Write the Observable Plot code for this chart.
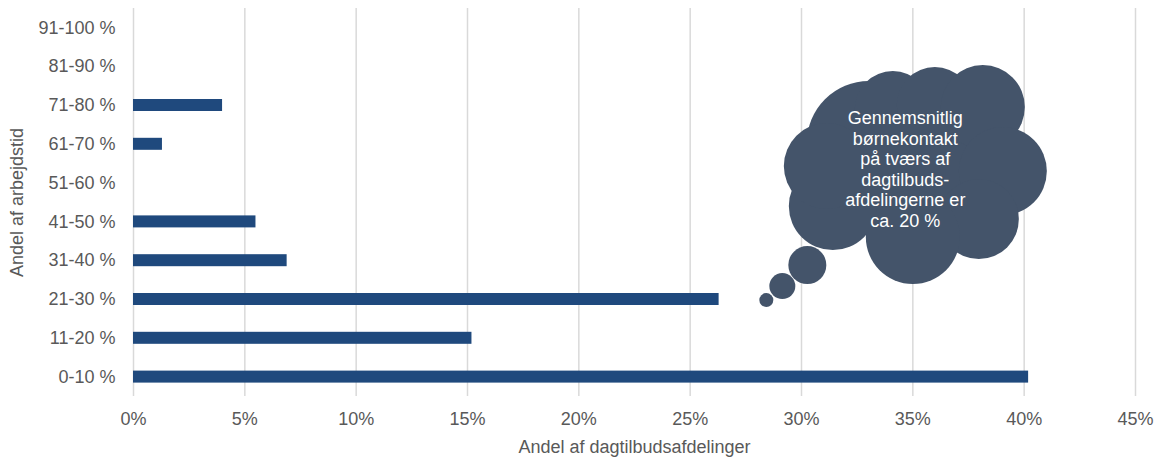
<!DOCTYPE html>
<html><head><meta charset="utf-8">
<script src="https://cdn.jsdelivr.net/npm/d3@7"></script>
<script src="https://cdn.jsdelivr.net/npm/@observablehq/plot@0.6"></script>
<style>body{margin:0;background:#fff;} svg{display:block}</style>
</head><body><div id="chart"></div>
<script>
// Data
const categories = ["0-10 %","11-20 %","21-30 %","31-40 %","41-50 %","51-60 %","61-70 %","71-80 %","81-90 %","91-100 %"];
const shares = [40.2, 15.2, 26.3, 6.9, 5.5, 0, 1.3, 4.0, 0, 0]; // percent of day-care units
const xTicks = [0, 5, 10, 15, 20, 25, 30, 35, 40, 45];
const xTitle = "Andel af dagtilbudsafdelinger";
const yTitle = "Andel af arbejdstid";
const cloudText = ["Gennemsnitlig", "børnekontakt", "på tværs af", "dagtilbuds-", "afdelingerne er", "ca. 20 %"];

const rows = categories.map((c, i) => ({category: c, share: shares[i]}));

// Thought-cloud annotation: anchored at a data point, lobes offset in px
const cloudAnchor = {x: 35, y: "51-60 %"};
const lobes = [
  {dx: 2, dy: -7, r: 76},
  {dx: -44, dy: -40, r: 62},
  {dx: -20, dy: -74, r: 38},
  {dx: 22, dy: -78, r: 38},
  {dx: 70, dy: -76, r: 42},
  {dx: 90, dy: -12, r: 44},
  {dx: 66, dy: 36, r: 40},
  {dx: 0, dy: 54, r: 47},
  {dx: -80, dy: 23, r: 44},
  {dx: -86, dy: -17, r: 43},
  {dx: -105.5, dy: 82, r: 19},
  {dx: -130.5, dy: 103, r: 13},
  {dx: -146.5, dy: 117, r: 7}
];
const cloudFill = "#44546a";
const textColor = "#595959";

const chart = Plot.plot({
  width: 1160,
  height: 459,
  marginLeft: 133,
  marginRight: 25,
  marginTop: 8,
  marginBottom: 63,
  style: {fontFamily: "'Liberation Sans', Arial, sans-serif", fontSize: "18px", color: textColor, background: "#fff"},
  x: {domain: [0, 45], ticks: xTicks, tickFormat: d => d + "%", label: null},
  y: {domain: categories.slice().reverse(), padding: 0, round: false, label: null},
  marks: [
    Plot.gridX(xTicks, {stroke: "#d9d9d9", strokeOpacity: 1, strokeWidth: 1.5}),
    Plot.barX(rows.filter(d => d.share > 0), {x: "share", y: "category", fill: "#1f497d", insetTop: 13.4, insetBottom: 13.4}),
    Plot.axisX(xTicks, {tickSize: 0, tickPadding: 16, tickFormat: d => d + "%", fontSize: 18, fill: textColor,
      label: xTitle, labelAnchor: "center", labelArrow: "none", labelOffset: 56}),
    Plot.axisY({tickSize: 0, tickPadding: 18, fontSize: 18, fill: textColor,
      label: yTitle, labelAnchor: "center", labelArrow: "none", labelOffset: 123}),
    ...lobes.map(l => Plot.dot([cloudAnchor], {x: "x", y: "y", dx: l.dx, dy: l.dy, r: l.r, fill: cloudFill, stroke: null})),
    Plot.text([cloudAnchor], {x: "x", y: "y", dx: -7.5, dy: -14, text: () => cloudText.join("\n"),
      fill: "#fff", fontSize: 18, lineHeight: 1.14, textAnchor: "middle"})
  ]
});
document.getElementById("chart").appendChild(chart);
</script>
</body></html>
